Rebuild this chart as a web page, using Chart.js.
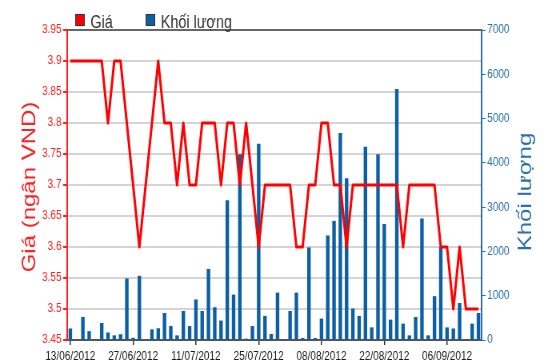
<!DOCTYPE html>
<html>
<head>
<meta charset="utf-8">
<script src="https://cdn.jsdelivr.net/npm/chart.js@4"></script>
<style>
    html, body { margin: 0; padding: 0; background: #fff; overflow: hidden; }
    /* the source picture is squeezed horizontally, so draw wider and scale down */
    #priceChart { display: block; transform: scaleX(0.8); transform-origin: 0 0; }
</style>
</head>
<body>
<canvas id="priceChart" width="688" height="364"></canvas>
<script>
const dates = [
    '13/06/2012', '14/06/2012', '15/06/2012', '18/06/2012', '19/06/2012', '20/06/2012', '21/06/2012', '22/06/2012', '25/06/2012', '26/06/2012',
    '27/06/2012', '28/06/2012', '29/06/2012', '02/07/2012', '03/07/2012', '04/07/2012', '05/07/2012', '06/07/2012', '09/07/2012', '10/07/2012',
    '11/07/2012', '12/07/2012', '13/07/2012', '16/07/2012', '17/07/2012', '18/07/2012', '19/07/2012', '20/07/2012', '23/07/2012', '24/07/2012',
    '25/07/2012', '26/07/2012', '27/07/2012', '30/07/2012', '31/07/2012', '01/08/2012', '02/08/2012', '03/08/2012', '06/08/2012', '07/08/2012',
    '08/08/2012', '09/08/2012', '10/08/2012', '13/08/2012', '14/08/2012', '15/08/2012', '16/08/2012', '17/08/2012', '20/08/2012', '21/08/2012',
    '22/08/2012', '23/08/2012', '24/08/2012', '27/08/2012', '28/08/2012', '29/08/2012', '30/08/2012', '31/08/2012', '04/09/2012', '05/09/2012',
    '06/09/2012', '07/09/2012', '10/09/2012', '11/09/2012', '12/09/2012', '13/09/2012'
];

// Giá (ngàn VND)
const prices = [
    3.9, 3.9, 3.9, 3.9, 3.9, 3.9, 3.8, 3.9, 3.9, 3.8,
    3.7, 3.6, 3.7, 3.8, 3.9, 3.8, 3.8, 3.7, 3.8, 3.7,
    3.7, 3.8, 3.8, 3.8, 3.7, 3.8, 3.8, 3.7, 3.8, 3.7,
    3.6, 3.7, 3.7, 3.7, 3.7, 3.7, 3.6, 3.6, 3.7, 3.7,
    3.8, 3.8, 3.7, 3.7, 3.6, 3.7, 3.7, 3.7, 3.7, 3.7,
    3.7, 3.7, 3.7, 3.6, 3.7, 3.7, 3.7, 3.7, 3.7, 3.6,
    3.6, 3.5, 3.6, 3.5, 3.5, 3.5
];

// Khối lượng
const volumes = [
    260, 0, 520, 200, 0, 385, 170, 105, 130, 1390,
    50, 1450, 0, 240, 265, 610, 315, 105, 655, 315,
    915, 655, 1605, 740, 440, 3155, 1025, 4195, 30, 315,
    4430, 545, 135, 1070, 0, 655, 1070, 45, 2090, 45,
    485, 2360, 2690, 4675, 3650, 710, 545, 4365, 285, 4195,
    2620, 460, 5665, 370, 105, 520, 2745, 105, 990, 2105,
    285, 260, 835, 0, 370, 610
];

const RED = '#ff0000';
const BLUE = '#0b5fa5';
const AXIS_BLUE = '#2a70ab';
const FONT = "'Liberation Sans', Arial, sans-serif";

// legend + rotated axis titles drawn by hand
const decorations = {
    id: 'decorations',
    afterDraw(chart) {
        const ctx = chart.ctx;
        ctx.save();
        ctx.font = `18px ${FONT}`;
        ctx.textBaseline = 'alphabetic';
        ctx.lineWidth = 1;
        ctx.strokeStyle = '#333';

        ctx.fillStyle = RED;
        ctx.fillRect(94, 14, 12, 12);
        ctx.strokeRect(94.5, 14.5, 11, 11);
        ctx.fillStyle = '#333';
        ctx.fillText('Giá', 113, 28);

        ctx.fillStyle = BLUE;
        ctx.fillRect(182, 14, 12, 12);
        ctx.strokeRect(182.5, 14.5, 11, 11);
        ctx.fillStyle = '#333';
        ctx.fillText('Khối lượng', 201, 28);

        ctx.font = `24px ${FONT}`;
        ctx.textAlign = 'center';
        ctx.textBaseline = 'middle';

        ctx.save();
        ctx.translate(37, 187);
        ctx.rotate(-Math.PI / 2);
        ctx.fillStyle = '#ff2020';
        ctx.fillText('Giá (ngân VND)', 0, 0);
        ctx.restore();

        ctx.save();
        ctx.translate(657, 192);
        ctx.rotate(-Math.PI / 2);
        ctx.fillStyle = AXIS_BLUE;
        ctx.fillText('Khối lượng', 0, 0);
        ctx.restore();

        ctx.restore();
    }
};

const ctx = document.getElementById('priceChart').getContext('2d');
const chart = new Chart(ctx, {
    type: 'bar',
    data: {
        labels: dates,
        datasets: [
            {
                type: 'line',
                label: 'Giá',
                data: prices,
                yAxisID: 'yPrice',
                borderColor: RED,
                borderWidth: 3,
                borderJoinStyle: 'round',
                pointRadius: 0,
                tension: 0,
                order: 0
            },
            {
                type: 'bar',
                label: 'Khối lượng',
                data: volumes,
                yAxisID: 'yVol',
                backgroundColor: BLUE,
                barPercentage: 0.56,
                categoryPercentage: 1,
                order: 1
            }
        ]
    },
    options: {
        responsive: false,
        animation: false,
        devicePixelRatio: 1,
        layout: {
            padding: { top: 30, bottom: 0, left: 0, right: 0 }
        },
        plugins: {
            legend: { display: false },
            tooltip: { enabled: false }
        },
        scales: {
            x: {
                offset: true,
                afterFit: scale => { scale.height = 24; },
                grid: {
                    display: true,
                    drawOnChartArea: false,
                    offset: false,
                    tickLength: 5,
                    lineWidth: 1.5,
                    tickColor: c => (c.index % 10 === 0 ? '#333' : 'rgba(0,0,0,0)')
                },
                border: { color: '#555', width: 2 },
                ticks: {
                    autoSkip: false,
                    maxRotation: 0,
                    minRotation: 0,
                    padding: 4,
                    color: '#1a1a1a',
                    font: { family: FONT, size: 12.5 },
                    callback: (v, i) => (i % 10 === 0 ? dates[i] : '')
                }
            },
            yPrice: {
                position: 'left',
                min: 3.45,
                max: 3.95,
                afterFit: scale => { scale.width = 84; },
                grid: {
                    color: c => (c.tick && c.tick.value > 3.94 ? '#666' : '#d4d4d4'),
                    lineWidth: 2,
                    tickLength: 5,
                    tickColor: '#ff2020'
                },
                border: { color: '#ff2020', width: 2 },
                ticks: {
                    stepSize: 0.05,
                    padding: 2,
                    color: '#ff2020',
                    font: { family: FONT, size: 12.5 },
                    callback: v => String(parseFloat(v.toFixed(2)))
                }
            },
            yVol: {
                position: 'right',
                min: 0,
                max: 7000,
                afterFit: scale => { scale.width = 86; },
                grid: {
                    drawOnChartArea: false,
                    tickLength: 5,
                    tickColor: AXIS_BLUE
                },
                border: { color: AXIS_BLUE, width: 2 },
                ticks: {
                    stepSize: 1000,
                    padding: 2,
                    color: AXIS_BLUE,
                    font: { family: FONT, size: 12.5 },
                    callback: v => String(v)
                }
            }
        }
    },
    plugins: [decorations]
});
</script>
</body>
</html>
